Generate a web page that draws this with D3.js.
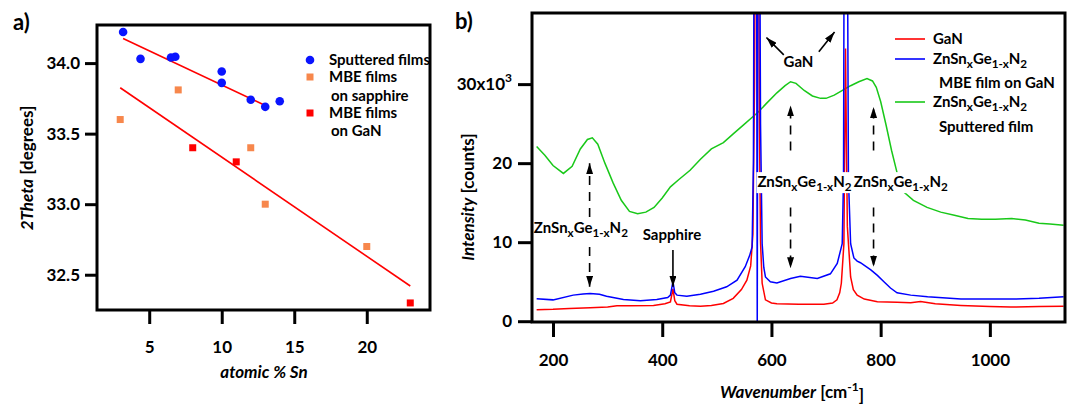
<!DOCTYPE html>
<html>
<head>
<meta charset="utf-8">
<script src="https://cdn.jsdelivr.net/npm/d3@7"></script>
<style>
  body { margin: 0; background: #fff; }
  svg text { font-family: Lato, "Open Sans", sans-serif; font-weight: bold; fill: #000; }
</style>
</head>
<body>
<div id="chart"></div>
<script>
// ---------- panel a: XRD peak position vs Sn content ----------
var sputSn = [3.2, 4.4, 6.5, 6.8, 10, 10, 12, 13, 14];
var sputTheta = [34.22, 34.03, 34.04, 34.045, 33.94, 33.86, 33.74, 33.69, 33.73];
var sapphSn = [3, 7, 12, 13, 20];
var sapphTheta = [33.6, 33.81, 33.4, 33.0, 32.7];
var ganSn = [8, 11, 23];
var ganTheta = [33.4, 33.3, 32.3];
// fitted lines (end points)
var sputFitSn = [3.2, 13.0];
var sputFitTheta = [34.175, 33.70];
var mbeFitSn = [3.0, 23.0];
var mbeFitTheta = [33.825, 32.42];
var aXTicks = [5, 10, 15, 20];
var aYTicks = [32.5, 33.0, 33.5, 34.0];

// ---------- panel b: Raman spectra (x1000 counts) ----------
var ganWn = [170, 200, 230, 268, 300, 317, 340, 384, 405, 415, 419.6, 423, 427, 450, 470, 490, 512, 530, 545, 555,
  562, 566, 569, 571, 576, 578, 580, 583, 589, 600, 610, 650, 696, 712, 720, 725, 728, 732.7, 734.5, 735.7, 737,
  739, 745, 750, 757, 770, 794, 830, 855, 873, 900, 947, 1000, 1038, 1090, 1135];
var ganInt = [1.45, 1.5, 1.6, 1.7, 1.8, 1.95, 1.95, 2.0, 2.2, 2.45, 4.1, 2.6, 2.15, 1.95, 1.9, 2.0, 2.25, 2.9, 4.0, 5.2,
  7.0, 11, 30, 60, 60, 25, 10, 4.8, 2.7, 2.3, 2.2, 2.15, 2.15, 2.3, 2.7, 3.6, 4.8, 9.8, 25, 34.5, 25,
  12, 5.6, 4.0, 3.3, 2.8, 2.45, 2.4, 2.35, 2.5, 2.2, 2.0, 1.85, 1.8, 1.85, 1.9];

var mbeWn = [170, 200, 237, 255, 268, 285, 298, 329, 360, 390, 410, 415, 419.6, 423, 427, 445, 470, 494, 518, 537,
  552, 560, 564.6, 567, 568.5, 572.5, 574, 575.5, 578, 580, 583, 586, 589, 598, 610, 635, 653, 684, 708, 720.5,
  729.6, 732, 733.5, 738.5, 741, 745, 751, 757, 763, 782, 794, 806, 818, 830, 855, 886, 920, 947, 990, 1038, 1090, 1135];
var mbeInt = [2.85, 2.7, 3.3, 3.45, 3.5, 3.4, 3.15, 2.75, 2.6, 2.75, 3.0, 3.3, 5.0, 3.6, 3.3, 3.15, 3.4, 3.8, 4.35, 5.2,
  6.9, 8.3, 9.4, 20, 60, 60, -1, 60, 60, 25, 9.8, 6.8, 5.6, 5.0, 4.85, 5.4, 5.7, 5.4, 6.0, 7.3,
  9.8, 18, 60, 60, 18, 9.8, 8.0, 7.6, 7.4, 6.5, 5.8, 5.0, 4.2, 3.6, 3.3, 3.1, 2.95, 2.8, 2.8, 2.8, 2.9, 3.1];

var sputWn = [170, 185, 200, 219, 235, 250, 263, 272, 282, 295, 310, 325, 340, 355, 370, 385, 400, 415, 430, 451,
  470, 490, 512, 530, 550, 568, 575, 590, 610, 625, 635, 645, 660, 675, 690, 700, 715, 730, 745, 760,
  775, 785, 792, 800, 810, 820, 830, 843, 860, 885, 910, 935, 960, 985, 1010, 1040, 1065, 1090, 1110, 1135];
var sputInt = [22.1, 21.0, 19.7, 18.7, 19.6, 21.8, 23.0, 23.2, 22.4, 20.0, 17.5, 15.3, 13.9, 13.6, 13.8, 14.4, 15.6, 17.0, 17.9, 19.1,
  20.5, 21.8, 22.6, 23.7, 24.9, 26.0, 26.4, 27.5, 28.9, 29.8, 30.3, 30.1, 29.2, 28.5, 28.2, 28.2, 28.6, 29.2, 29.8, 30.3,
  30.7, 30.4, 29.6, 27.8, 24.8, 21.6, 18.8, 16.3, 15.3, 14.4, 13.8, 13.4, 13.0, 12.9, 12.9, 13.0, 12.8, 12.4, 12.3, 12.15];
var bXTicks = [200, 400, 600, 800, 1000];
var bYTicks = [0, 10, 20, 30];

var svgWidth = 1072;
var svgHeight = 406;

var svg = d3.select("#chart").append("svg")
  .attr("width", svgWidth)
  .attr("height", svgHeight);

// arrow head marker
var defs = svg.append("defs");
defs.append("marker")
  .attr("id", "head")
  .attr("viewBox", "0 0 10 10")
  .attr("preserveAspectRatio", "none")
  .attr("refX", 10).attr("refY", 5)
  .attr("markerUnits", "userSpaceOnUse")
  .attr("markerWidth", 11).attr("markerHeight", 7)
  .attr("orient", "auto")
  .append("path").attr("d", "M0,0L10,5L0,10Z").attr("fill", "#000");

// writes ZnSn(x)Ge(1-x)N(2) into a text element; base = vertical offset of the baseline
function znLabel(t, base) {
  var parts = [["ZnSn", 0], ["x", 1], ["Ge", 0], ["1-x", 1], ["N", 0], ["2", 1]];
  var shift = -base;
  parts.forEach(function(p) {
    var target = p[1] ? 4 : 0;
    var ts = t.append("tspan").attr("dy", target - shift).text(p[0]);
    if (p[1]) ts.attr("font-size", "0.78em");
    shift = target;
  });
  return t;
}

function styleAxis(g, fontSize) {
  g.select(".domain").remove();
  g.selectAll(".tick line").attr("stroke", "#000").attr("stroke-width", 3);
  g.selectAll(".tick text").style("font-size", fontSize + "px").attr("font-family", null);
}

// ================= panel a =================
var ax = d3.scaleLinear().domain([1.4, 24.36]).range([97, 430]);
var ay = d3.scaleLinear().domain([32.25, 34.27]).range([310, 25]);

var gA = svg.append("g");

var axA = gA.append("g").attr("transform", "translate(0,310)")
  .call(d3.axisBottom(ax).tickValues(aXTicks).tickSize(14).tickPadding(17).tickSizeOuter(0));
styleAxis(axA, 17);
var ayA = gA.append("g").attr("transform", "translate(97,0)")
  .call(d3.axisLeft(ay).tickValues(aYTicks).tickFormat(d3.format(".1f")).tickSize(12).tickPadding(5).tickSizeOuter(0));
styleAxis(ayA, 17);

gA.append("rect")
  .attr("x", 97).attr("y", 25).attr("width", 430 - 97).attr("height", 310 - 25)
  .attr("fill", "none").attr("stroke", "#000").attr("stroke-width", 3);

var fitLine = d3.line().x(d => ax(d[0])).y(d => ay(d[1]));
gA.append("path").attr("d", fitLine(d3.zip(sputFitSn, sputFitTheta)))
  .attr("stroke", "#ff0000").attr("stroke-width", 1.6).attr("fill", "none");
gA.append("path").attr("d", fitLine(d3.zip(mbeFitSn, mbeFitTheta)))
  .attr("stroke", "#ff0000").attr("stroke-width", 1.6).attr("fill", "none");

gA.append("g").selectAll("circle")
  .data(d3.zip(sputSn, sputTheta))
  .enter().append("circle")
  .attr("cx", d => ax(d[0])).attr("cy", d => ay(d[1]))
  .attr("r", 4.3).attr("fill", "#0a14ff");

var sq = 7;
gA.append("g").selectAll("rect")
  .data(d3.zip(sapphSn, sapphTheta))
  .enter().append("rect")
  .attr("x", d => ax(d[0]) - sq / 2).attr("y", d => ay(d[1]) - sq / 2)
  .attr("width", sq).attr("height", sq).attr("fill", "#f7874c");
gA.append("g").selectAll("rect")
  .data(d3.zip(ganSn, ganTheta))
  .enter().append("rect")
  .attr("x", d => ax(d[0]) - sq / 2).attr("y", d => ay(d[1]) - sq / 2)
  .attr("width", sq).attr("height", sq).attr("fill", "#ff0000");

// legend a
var legA = gA.append("g").style("font-size", "15px");
legA.append("circle").attr("cx", 310).attr("cy", 60).attr("r", 4.3).attr("fill", "#0a14ff");
legA.append("rect").attr("x", 310 - sq / 2).attr("y", 77 - sq / 2).attr("width", sq).attr("height", sq).attr("fill", "#f7874c");
legA.append("rect").attr("x", 310 - sq / 2).attr("y", 113 - sq / 2).attr("width", sq).attr("height", sq).attr("fill", "#ff0000");
[["Sputtered films", 329, 60], ["MBE films", 329, 77], ["on sapphire", 331, 96], ["MBE films", 329, 113], ["on GaN", 331, 131]]
  .forEach(function(l) {
    legA.append("text").attr("x", l[1]).attr("y", l[2]).attr("dy", "0.35em").text(l[0]);
  });

// axis titles a
gA.append("text").attr("x", 264).attr("y", 378).attr("text-anchor", "middle").style("font-size", "17px")
  .append("tspan").style("font-style", "italic").text("atomic % Sn");
var tA = gA.append("text").attr("transform", "translate(33,168) rotate(-90)")
  .attr("text-anchor", "middle").style("font-size", "17px");
tA.append("tspan").style("font-style", "italic").text("2Theta");
tA.append("tspan").text(" [degrees]");

svg.append("text").attr("x", 13).attr("y", 30).style("font-size", "22px").text("a)");

// ================= panel b =================
var bx = d3.scaleLinear().domain([161.5, 1137.6]).range([532, 1065]);
var by = d3.scaleLinear().domain([-0.1, 39.0]).range([322, 13]);

var gB = svg.append("g");

defs.append("clipPath").attr("id", "clipB")
  .append("rect").attr("x", 532).attr("y", 13).attr("width", 1065 - 532).attr("height", 322 - 13);

var axB = gB.append("g").attr("transform", "translate(0,322)")
  .call(d3.axisBottom(bx).tickValues(bXTicks).tickFormat(d3.format("d")).tickSize(15).tickPadding(17).tickSizeOuter(0));
styleAxis(axB, 17);
var ayB = gB.append("g").attr("transform", "translate(532,0)")
  .call(d3.axisLeft(by).tickValues(bYTicks).tickSize(14).tickPadding(6).tickSizeOuter(0));
styleAxis(ayB, 17);
ayB.selectAll(".tick text").each(function(d) {
  if (d === 30) {
    var t = d3.select(this).text("30x10");
    t.append("tspan").attr("dy", "-0.65em").style("font-size", "12px").text("3");
  }
});

var spec = d3.line().x(d => bx(d[0])).y(d => by(d[1]));
var lines = gB.append("g").attr("clip-path", "url(#clipB)");
lines.append("path").attr("d", spec(d3.zip(sputWn, sputInt)))
  .attr("stroke", "#19c819").attr("stroke-width", 1.5).attr("fill", "none");
lines.append("path").attr("d", spec(d3.zip(ganWn, ganInt)))
  .attr("stroke", "#ff0000").attr("stroke-width", 1.5).attr("fill", "none");
lines.append("path").attr("d", spec(d3.zip(mbeWn, mbeInt)))
  .attr("stroke", "#0000ff").attr("stroke-width", 1.5).attr("fill", "none");

gB.append("rect")
  .attr("x", 532).attr("y", 13).attr("width", 1065 - 532).attr("height", 322 - 13)
  .attr("fill", "none").attr("stroke", "#000").attr("stroke-width", 3);

// annotations
var ann = gB.append("g").style("font-size", "15px");
function arrow(w1, v1, w2, v2, dashed) {
  ann.append("line")
    .attr("x1", bx(w1)).attr("y1", by(v1)).attr("x2", bx(w2)).attr("y2", by(v2))
    .attr("stroke", "#000").attr("stroke-width", 1.6)
    .attr("stroke-dasharray", dashed ? "9,7" : null)
    .attr("marker-end", "url(#head)");
}
function boxedLabel(w, v, boxed) {
  var g = ann.append("g");
  var rect = g.append("rect").attr("fill", "#fff");
  var t = znLabel(g.append("text").attr("x", bx(w)).attr("y", by(v)).attr("text-anchor", "middle"), 5);
  if (boxed) {
    var bb = t.node().getBBox();
    rect.attr("x", bb.x - 1).attr("y", bb.y).attr("width", bb.width + 2).attr("height", bb.height);
  }
}

// ZnSnGeN mode near 267
arrow(267, 13.2, 267, 20.0, true);
arrow(267, 9.4, 267, 4.35, true);
boxedLabel(251, 11.8, false);
// sapphire
ann.append("text").attr("x", bx(417.8)).attr("y", by(10.9)).attr("dy", "0.3em")
  .attr("text-anchor", "middle").text("Sapphire");
arrow(419.6, 9.0, 419.6, 4.35, false);
// modes near 635 and 787
arrow(635, 21.6, 635, 27.3, true);
arrow(635, 14.4, 635, 6.7, true);
arrow(787, 21.6, 787, 27.1, true);
arrow(787, 14.4, 787, 6.9, true);
boxedLabel(660.5, 17.6, true);
boxedLabel(836.7, 17.6, true);
// GaN peaks
ann.append("text").attr("x", bx(649.5)).attr("y", by(32.7)).attr("dy", "0.3em")
  .attr("text-anchor", "middle").text("GaN");
arrow(622.6, 33.7, 590.8, 35.9, false);
arrow(686.8, 34.1, 715.6, 36.6, false);

// legend b
var legB = gB.append("g").style("font-size", "15px");
[["#ff0000", 39], ["#0000ff", 59], ["#19c819", 102]].forEach(function(l) {
  legB.append("line").attr("x1", 895).attr("x2", 925).attr("y1", l[1]).attr("y2", l[1])
    .attr("stroke", l[0]).attr("stroke-width", 1.6);
});
legB.append("text").attr("x", 933).attr("y", 39).attr("dy", "0.35em").text("GaN");
znLabel(legB.append("text").attr("x", 933).attr("y", 59), 5);
legB.append("text").attr("x", 939).attr("y", 83).attr("dy", "0.35em").text("MBE film on GaN");
znLabel(legB.append("text").attr("x", 933).attr("y", 102), 5);
legB.append("text").attr("x", 939).attr("y", 127).attr("dy", "0.35em").text("Sputtered film");

// axis titles b
var tBx = gB.append("text").attr("x", 792).attr("y", 398).attr("text-anchor", "middle").style("font-size", "17px");
tBx.append("tspan").style("font-style", "italic").text("Wavenumber");
tBx.append("tspan").text(" [cm");
tBx.append("tspan").attr("dy", "-0.6em").style("font-size", "12px").text("-1");
tBx.append("tspan").attr("dy", "0.6em").text("]");
var tBy = gB.append("text").attr("transform", "translate(474,197) rotate(-90)")
  .attr("text-anchor", "middle").style("font-size", "17px");
tBy.append("tspan").style("font-style", "italic").text("Intensity");
tBy.append("tspan").text(" [counts]");

svg.append("text").attr("x", 455).attr("y", 29).style("font-size", "22px").text("b)");
</script>
</body>
</html>
